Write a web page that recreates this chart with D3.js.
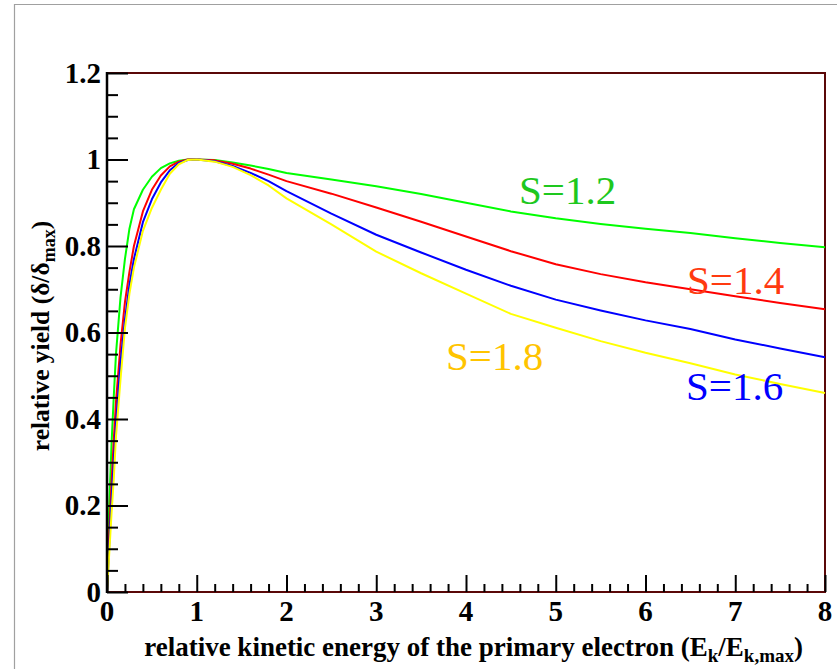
<!DOCTYPE html>
<html><head><meta charset="utf-8">
<script src="https://cdn.jsdelivr.net/npm/d3@7/dist/d3.min.js"></script>
<style>html,body{margin:0;padding:0;background:#fff;}</style>
</head><body>
<svg id="c" width="837" height="669"></svg>
<script>
const xVals = [0,0.025,0.05,0.075,0.1,0.15,0.2,0.25,0.3,0.4,0.5,0.6,0.7,0.8,0.9,1.0,1.2,1.4,1.6,1.8,2.0,2.5,3.0,3.5,4.0,4.5,5.0,5.5,6.0,6.5,7.0,7.5,8.0];
const yS12 = [0,0.20,0.34,0.45,0.55,0.68,0.77,0.84,0.885,0.93,0.960,0.980,0.991,0.997,1.0,1.0,0.999,0.993,0.986,0.978,0.969,0.954,0.938,0.920,0.900,0.880,0.864,0.851,0.840,0.830,0.818,0.807,0.797];
const yS14 = [0,0.14,0.25,0.35,0.44,0.57,0.67,0.74,0.80,0.88,0.93,0.963,0.984,0.995,1.0,1.0,0.998,0.990,0.979,0.965,0.950,0.921,0.889,0.856,0.822,0.788,0.758,0.735,0.716,0.700,0.684,0.668,0.654];
const yS16 = [0,0.11,0.21,0.30,0.39,0.53,0.63,0.71,0.77,0.855,0.908,0.947,0.975,0.992,0.999,1.0,0.996,0.985,0.969,0.950,0.927,0.875,0.826,0.785,0.745,0.708,0.676,0.651,0.628,0.608,0.584,0.563,0.543];
const yS18 = [0,0.09,0.18,0.26,0.36,0.49,0.61,0.69,0.75,0.835,0.888,0.93,0.967,0.989,0.999,1.0,0.995,0.983,0.964,0.940,0.910,0.850,0.787,0.737,0.690,0.643,0.611,0.580,0.553,0.529,0.503,0.481,0.460];
const seriesNames = ["S=1.2","S=1.4","S=1.6","S=1.8"];
const lineColors = ["#00ff00","#ff0000","#0000ff","#ffff00"];
const labelColors = ["#1ec81e","#ff3a10","#0000ff","#ffc400"];
const xTicks = [0,1,2,3,4,5,6,7,8];
const yTicks = [0,0.2,0.4,0.6,0.8,1,1.2];
const yTickLabels = ["0","0.2","0.4","0.6","0.8","1","1.2"];
const xTitle = "relative kinetic energy of the primary electron";
const yTitle = "relative yield";

const svg = d3.select("#c");
const L=107, R=825, T=73, B=592;
const x = d3.scaleLinear().domain([0,8]).range([L,R]);
const y = d3.scaleLinear().domain([0,1.2]).range([B,T]);
const serif = "'Liberation Serif','DejaVu Serif',serif";

svg.append("rect").attr("width",837).attr("height",669).attr("fill","#fff");
svg.append("path").attr("d","M14.5,669 V4.5 H837").attr("fill","none").attr("stroke","#a0a0a0").attr("stroke-width",1.2);

svg.append("rect").attr("x",L).attr("y",T).attr("width",R-L).attr("height",B-T)
  .attr("fill","none").attr("stroke","#5a0808").attr("stroke-width",2);

const allY=[yS12,yS14,yS16,yS18];
const line = d3.line().x(d=>x(d[0])).y(d=>y(d[1]));
allY.forEach((ys,i)=>{
  svg.append("path").datum(xVals.map((v,j)=>[v,ys[j]]))
    .attr("d",line).attr("fill","none").attr("stroke",lineColors[i]).attr("stroke-width",2)
    .attr("stroke-linejoin","round");
});

const yAxis = d3.axisRight(y).tickValues(d3.range(0,1.2001,0.05)).tickSize(11).tickFormat("");
const gy = svg.append("g").attr("transform",`translate(${L},0)`).call(yAxis);
gy.select(".domain").remove();
gy.selectAll(".tick line").attr("stroke","#000").attr("stroke-width",2)
  .attr("x2",(d)=> Math.abs(d*5-Math.round(d*5))<1e-6 ? 21 : 11);
svg.append("line").attr("x1",L).attr("x2",L).attr("y1",T-1).attr("y2",B+1).attr("stroke","#000").attr("stroke-width",2.5);
yTicks.forEach((v,i)=>{
  svg.append("text").attr("x",L-6).attr("y",y(v)).attr("dy","0.34em").attr("text-anchor","end")
    .attr("font-family",serif).attr("font-weight","bold").attr("font-size",29).text(yTickLabels[i]);
});

const xAxis = d3.axisTop(x).tickValues(d3.range(0,8.0001,0.2)).tickSize(8).tickFormat("");
const gx = svg.append("g").attr("transform",`translate(0,${B})`).call(xAxis);
gx.select(".domain").remove();
gx.selectAll(".tick line").attr("stroke","#000").attr("stroke-width",2)
  .attr("y2",(d)=> Math.abs(d-Math.round(d))<1e-6 ? -17 : -8);
xTicks.forEach(v=>{
  svg.append("text").attr("x",x(v)).attr("y",B+29).attr("text-anchor","middle")
    .attr("font-family",serif).attr("font-weight","bold").attr("font-size",29).text(v);
});

const xt = svg.append("text").attr("x",803).attr("y",656).attr("text-anchor","end")
  .attr("font-family",serif).attr("font-weight","bold").attr("font-size",27);
xt.append("tspan").text(xTitle+" (E");
xt.append("tspan").attr("dy",6).attr("font-size",19).text("k");
xt.append("tspan").attr("dy",-6).text("/E");
xt.append("tspan").attr("dy",6).attr("font-size",19).text("k,max");
xt.append("tspan").attr("dy",-6).text(")");

const yt = svg.append("text").attr("transform","translate(49,336) rotate(-90)").attr("text-anchor","middle")
  .attr("font-family",serif).attr("font-weight","bold").attr("font-size",25.5);
yt.append("tspan").text(yTitle+" (δ/δ");
yt.append("tspan").attr("dy",6).attr("font-size",18).text("max");
yt.append("tspan").attr("dy",-6).text(")");

const labelPos = [[519,204],[687,294],[686,400],[446,370]];
seriesNames.forEach((n,i)=>{
  svg.append("text").attr("x",labelPos[i][0]).attr("y",labelPos[i][1])
    .attr("font-family",serif).attr("font-size",41).attr("fill",labelColors[i]).text(n);
});
</script>
</body></html>
